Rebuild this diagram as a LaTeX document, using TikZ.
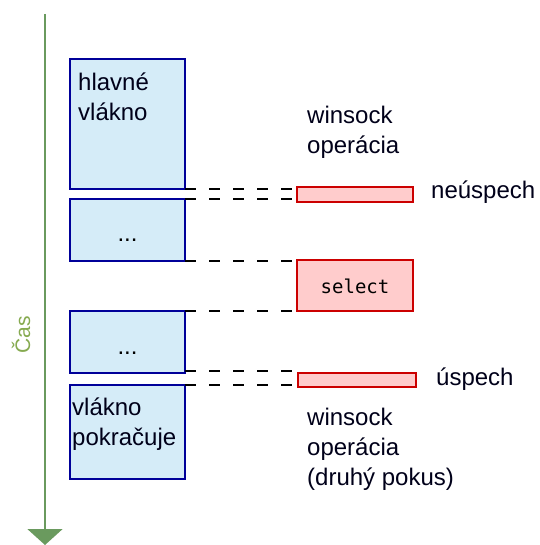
\documentclass[tikz,border=0pt]{standalone}
\usepackage{fontspec}
\setmainfont{Liberation Sans}
\newfontfamily\monof{DejaVu Sans Mono}
\usetikzlibrary{arrows.meta}
\definecolor{thrfill}{HTML}{D5ECF8}
\definecolor{thrdraw}{HTML}{000099}
\definecolor{opfill}{HTML}{FFCCCC}
\definecolor{opdraw}{HTML}{CC0000}
\definecolor{axiscol}{HTML}{6A9A5E}
\definecolor{cascol}{HTML}{86AA50}
\tikzset{
  thr/.style={draw=thrdraw, fill=thrfill, line width=2pt, minimum width=115pt, inner sep=0pt, outer sep=0pt},
  op/.style={draw=opdraw, fill=opfill, line width=2pt, minimum width=116pt, inner sep=0pt, outer sep=0pt},
  lbl/.style={font=\fontsize{24}{30}\selectfont, align=left, inner sep=0pt, anchor=base west, text=black!90!blue},
  wait/.style={draw=black, line width=2pt, dash pattern=on 11pt off 13pt},
}
\begin{document}
\begin{tikzpicture}[x=1pt,y=-1pt]
\useasboundingbox (0,0) rectangle (539,545);
% time axis
\coordinate (tstart) at (45,14);
\coordinate (tend) at (45,545);
\draw[axiscol, line width=2pt, -{Triangle[width=35pt,length=16pt]}] (tstart) -- (tend);
\node[rotate=90, text=cascol, font=\fontsize{21}{24}\selectfont, inner sep=0pt] (cas) at (21,335) {Čas};
% thread boxes
\node[thr, minimum height=130pt] (t1) at (127.5,124) {};
\node[thr, minimum height=62pt] (t2) at (127.5,230) {};
\node[thr, minimum height=62pt] (t3) at (127.5,342) {};
\node[thr, minimum height=94pt] (t4) at (127.5,432) {};
\node[font=\fontsize{24}{30}\selectfont, inner sep=0pt, anchor=base] (d2) at (127.5,241) {...};
\node[font=\fontsize{24}{30}\selectfont, inner sep=0pt, anchor=base] (d3) at (127.5,354) {...};
% operation boxes
\node[op, minimum height=15pt] (fail) at (355,194.5) {};
\node[op, minimum height=51pt] (sel) at (355,285.5) {};
\node[font=\monof\fontsize{19}{22}\selectfont, inner sep=0pt, anchor=base] (selt) at (355,293) {select};
\node[op, minimum height=14pt, minimum width=118pt] (succ) at (357,380) {};
% dashed links
\draw[wait] (t1.south east) -- (t1.south east -| fail.west);
\draw[wait] (t2.north east) -- (t2.north east -| fail.west);
\draw[wait] (t2.south east) -- (t2.south east -| sel.west);
\draw[wait] (t3.north east) -- (t3.north east -| sel.west);
\draw[wait] ([yshift=2pt]t3.south east) -- ([yshift=2pt]t3.south east -| succ.west);
\draw[wait] (t4.north east) -- (t4.north east -| succ.west);
% labels
\node[lbl] (l1) at (78,121) {hlavné\\vlákno};
\node[lbl] (l4) at (72,445) {vlákno\\pokračuje};
\node[lbl] (w1) at (307,154) {winsock\\operácia};
\node[lbl] (nf) at (431,198) {neúspech};
\node[lbl] (us) at (436,385) {úspech};
\node[lbl] (w2) at (307,485) {winsock\\operácia\\(druhý pokus)};
\end{tikzpicture}
\end{document}
